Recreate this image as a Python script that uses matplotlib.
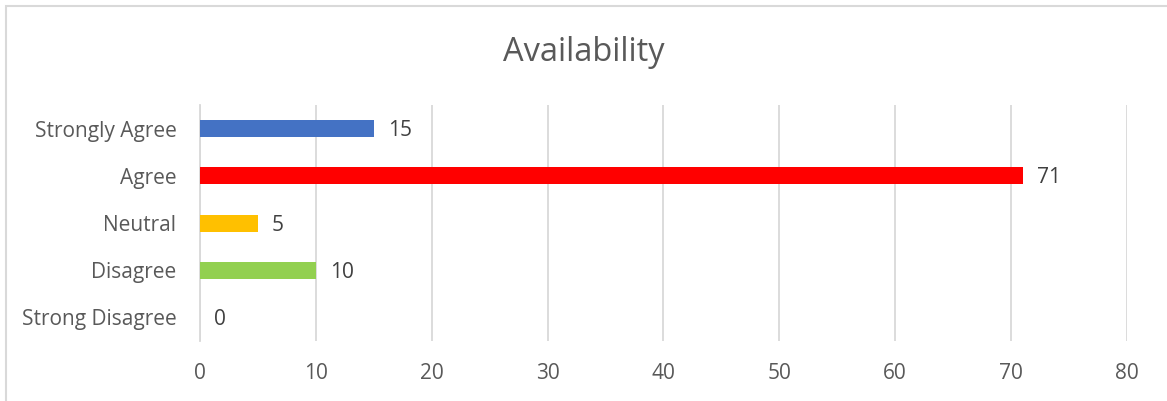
import matplotlib.pyplot as plt
from matplotlib.patches import Rectangle

categories = ['Strongly Agree', 'Agree', 'Neutral', 'Disagree', 'Strong Disagree']
values = [15, 71, 5, 10, 0]
colors = ['#4472C4', '#FF0000', '#FFC000', '#92D050', '#A5A5A5']
xticks = [0, 10, 20, 30, 40, 50, 60, 70, 80]

plt.rcParams['font.family'] = ['Open Sans', 'DejaVu Sans']
text_color = '#595959'
grid_color = '#D9D9D9'

fig = plt.figure(figsize=(11.67, 4.01), dpi=100)
ax = fig.add_axes([0.1714, 0.1496, 0.9657 - 0.1714, 0.738 - 0.1496])

ypos = list(range(len(categories)))
ax.barh(ypos, values, height=0.36, color=colors, zorder=3)

# value labels
for y, v in zip(ypos, values):
    ax.annotate(str(v), (v, y), xytext=(10, -1.5), textcoords='offset points',
                va='center', ha='left', fontsize=15, color='#404040')

ax.set_ylim(len(categories) - 0.5, -0.5)
ax.set_xlim(0, 80)
ax.set_xticks(xticks)
ax.set_yticks(ypos)
ax.set_yticklabels(categories)
ax.tick_params(axis='both', length=0, labelsize=15, colors=text_color)
ax.tick_params(axis='x', pad=16)
ax.tick_params(axis='y', pad=17)

ax.grid(axis='x', color=grid_color, linewidth=1.3, zorder=0)
for s in ['top', 'right', 'bottom']:
    ax.spines[s].set_visible(False)
ax.spines['left'].set_color(grid_color)
ax.spines['left'].set_linewidth(1.3)

fig.text(0.5, 0.868, 'Availability', ha='center', va='center',
         fontsize=23.5, color=text_color)

# chart border
fig.patches.append(Rectangle((6 / 1167, -0.1), 1.2, 1 - 6 / 401 + 0.1,
                             transform=fig.transFigure, fill=False,
                             edgecolor='#D9D9D9', linewidth=1.5))

fig.savefig('out.png', dpi=100)
